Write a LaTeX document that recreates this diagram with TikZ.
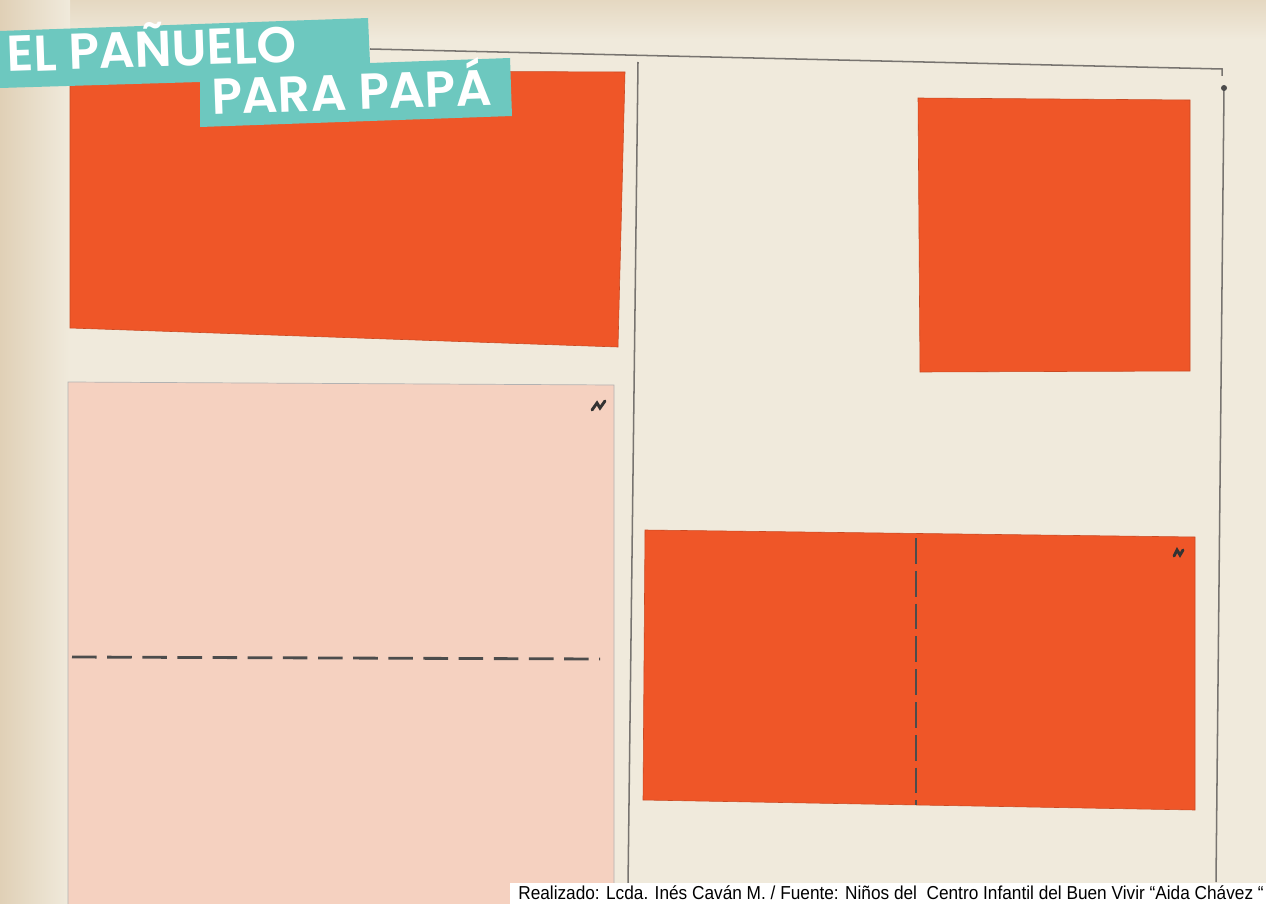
\documentclass[tikz,border=0pt]{standalone}
\usepackage{fontspec}
\setmainfont{Liberation Sans}
\newfontfamily\titlefont{Poppins SemiBold}
\newfontfamily\capfont[FakeStretch=0.92]{Liberation Sans}
\definecolor{paper}{RGB}{240,234,220}
\definecolor{paperdark}{RGB}{224,208,182}
\definecolor{sheetorange}{RGB}{239,86,40}
\definecolor{sheetpink}{RGB}{245,209,192}
\definecolor{pencil}{RGB}{120,116,112}
\definecolor{bandteal}{RGB}{109,200,191}
\tikzset{
  sheet/.style={fill=sheetorange, draw=sheetorange!85!black, line width=0.5pt},
  foldline/.style={draw=black!70, line width=2.4pt, dash pattern=on 21pt off 9pt},
  pencilline/.style={draw=pencil, line width=1.3pt},
  titletext/.style={text=white, font=\titlefont\fontsize{43}{43}\selectfont, inner sep=0pt, anchor=base west, rotate=2},
}
\begin{document}
\begin{tikzpicture}[x=0.03cm, y=-0.03cm]
\useasboundingbox (0,0) rectangle (1266,904);
\fill[paper] (0,0) rectangle (1266,904);
\shade[top color=paperdark!70!paper, bottom color=paper] (0,0) rectangle (1266,40);
\shade[left color=paperdark, right color=paper] (0,0) rectangle (70,904);

\draw[pencilline] (370,49) -- (1222,69) -- (1222,76);
\draw[pencilline] (638,62) -- (628,886);
\draw[pencilline] (1224,88) -- (1216,882);
\fill[black!70] (1224,88) circle (3);

\draw[sheet] (70,70) -- (625,72) -- (618,347) -- (70,328) -- cycle;
\draw[sheet] (918,98) -- (1190,100) -- (1190,371) -- (920,372) -- cycle;
\draw[sheet] (645,530) -- (1195,537) -- (1195,810) -- (643,800) -- cycle;
\draw[fill=sheetpink, draw=black!30, line width=0.6pt] (68,910) -- (68,382) -- (614,385) -- (614,910);

\draw[foldline] (72,657) -- (600,659);
\draw[foldline, dash pattern=on 22pt off 6pt] (916,538) -- (916,805);
\draw[black!80, line width=2.5pt, line cap=round] (592,410) -- (597,403) -- (600,408) -- (605,401);
\draw[black!80, line width=2.5pt, line cap=round] (1174,556) -- (1177,550) -- (1180,555) -- (1183,550);

\fill[bandteal] (0,31) -- (368,18) -- (370,63) -- (510,58) -- (512,116) -- (200,127) -- (200,82) -- (0,88) -- cycle;
\node[titletext] (TL) at (7,72) {EL PAÑUELO};
\node[titletext] (TP) at (212,115) {PARA PAPÁ};

\fill[white] (510,883) rectangle (1266,904);
\node[anchor=base east, inner sep=0pt, font=\capfont\fontsize{16}{16}\selectfont] (CAP) at (1264,899)
  {Realizado: Lcda. Inés Caván M. / Fuente: Niños del\ \ Centro Infantil del Buen Vivir “Aida Chávez “};
\end{tikzpicture}
\end{document}
